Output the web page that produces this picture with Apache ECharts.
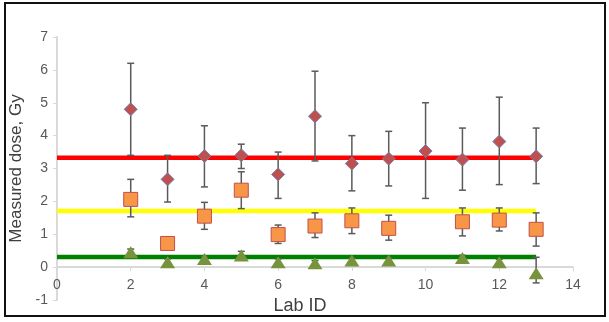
<!DOCTYPE html>
<html>
<head>
<meta charset="utf-8">
<script src="https://cdn.jsdelivr.net/npm/echarts@6/dist/echarts.min.js"></script>
<style>
  html, body { margin: 0; padding: 0; background: #fff; }
  #chart { width: 609px; height: 322px; }
</style>
</head>
<body>
<div id="chart"></div>
<script>
// lab IDs and measured doses
var redLabs = [2, 3, 4, 5, 6, 7, 8, 9, 10, 11, 12, 13]
var redVal = [4.8, 2.67, 3.38, 3.4, 2.82, 4.59, 3.15, 3.3, 3.53, 3.27, 3.82, 3.37]
var redHigh = [6.2, 3.4, 4.3, 3.74, 3.5, 5.96, 4.0, 4.13, 5.0, 4.23, 5.17, 4.23]
var redLow = [3.4, 1.98, 2.44, 3.0, 2.09, 3.23, 2.32, 2.47, 2.09, 2.34, 2.51, 2.54]

var orangeLabs = [2, 3, 4, 5, 6, 7, 8, 9, 11, 12, 13]
var orangeVal = [2.06, 0.72, 1.55, 2.34, 0.99, 1.25, 1.41, 1.18, 1.38, 1.43, 1.15]
var orangeHigh = [2.67, 0.92, 1.97, 2.9, 1.28, 1.65, 1.8, 1.58, 1.8, 1.8, 1.65]
var orangeLow = [1.53, 0.55, 1.15, 1.78, 0.72, 0.9, 1.02, 0.82, 0.95, 1.1, 0.64]

var greenLabs = [2, 3, 4, 5, 6, 7, 8, 9, 11, 12, 13]
var greenVal = [0.45, 0.15, 0.25, 0.35, 0.15, 0.12, 0.2, 0.2, 0.28, 0.15, -0.19]
var greenHigh = [0.55, 0.25, 0.33, 0.48, 0.25, 0.2, 0.28, 0.28, 0.36, 0.24, 0.3]
var greenLow = [0.35, 0.06, 0.17, 0.25, 0.07, 0.05, 0.12, 0.12, 0.2, 0.07, -0.48]

// reference levels (horizontal lines from 0 to lab 13)
var refLevels = [3.33, 1.71, 0.31]
var refColors = ['#ff0000', '#ffff00', '#008000']
var refStart = 0
var refEnd = 13

var chart = echarts.init(document.getElementById('chart'))

function pairs(xs, ys) {
  return xs.map(function (x, i) { return [x, ys[i]] })
}
function bars(xs, lo, hi) {
  return xs.map(function (x, i) { return [x, lo[i], hi[i]] })
}

function renderErr(params, api) {
  var x = api.value(0)
  var top = api.coord([x, api.value(2)])
  var bot = api.coord([x, api.value(1)])
  var st = { stroke: '#5a5a5a', lineWidth: 1.5 }
  return {
    type: 'group',
    children: [
      { type: 'line', shape: { x1: top[0], y1: top[1], x2: bot[0], y2: bot[1] }, style: st },
      { type: 'line', shape: { x1: top[0] - 3.5, y1: top[1], x2: top[0] + 3.5, y2: top[1] }, style: st },
      { type: 'line', shape: { x1: bot[0] - 3.5, y1: bot[1], x2: bot[0] + 3.5, y2: bot[1] }, style: st }
    ]
  }
}

var series = []
refLevels.forEach(function (v, i) {
  series.push({
    type: 'line',
    data: [[refStart, v], [refEnd, v]],
    symbol: 'none',
    lineStyle: { color: refColors[i], width: 4.5 },
    z: 2,
    silent: true
  })
})
series.push(
  { type: 'custom', renderItem: renderErr, data: bars(redLabs, redLow, redHigh), z: 3 },
  { type: 'custom', renderItem: renderErr, data: bars(orangeLabs, orangeLow, orangeHigh), z: 3 },
  { type: 'custom', renderItem: renderErr, data: bars(greenLabs, greenLow, greenHigh), z: 3 },
  {
    type: 'scatter',
    data: pairs(redLabs, redVal),
    symbol: 'diamond',
    symbolSize: [13, 13],
    itemStyle: { color: '#c0504d', borderColor: '#6f7fb0', borderWidth: 1, opacity: 1 },
    z: 5
  },
  {
    type: 'scatter',
    data: pairs(orangeLabs, orangeVal),
    symbol: 'rect',
    symbolSize: 14,
    itemStyle: { color: '#f79646', borderColor: '#c0504d', borderWidth: 1, opacity: 1 },
    z: 5
  },
  {
    type: 'scatter',
    data: pairs(greenLabs, greenVal),
    symbol: 'triangle',
    symbolSize: [15, 12],
    itemStyle: { color: '#77933c', opacity: 1 },
    z: 5
  }
)

// grid is 263px high for 8 units; the x axis sits at y = 0, one unit above the bottom
var gridH = 322 - 37 - 22

chart.setOption({
  animation: false,
  textStyle: { fontFamily: 'Liberation Sans, Arial, sans-serif' },
  graphic: [{
    type: 'rect',
    shape: { x: 5, y: 3, width: 600, height: 313 },
    style: { fill: 'none', stroke: '#111', lineWidth: 2 }
  }],
  grid: { left: 57, right: 36, top: 37, bottom: 22, outerBoundsMode: 'none' },
  xAxis: {
    type: 'value',
    min: 0,
    max: 14,
    interval: 2,
    offset: -gridH / 8,
    name: 'Lab ID',
    nameLocation: 'middle',
    nameGap: 28,
    nameTextStyle: { fontSize: 18, color: '#404040', padding: [0, 30, 0, 0] },
    axisLine: { onZero: false, lineStyle: { color: '#d9d9d9', width: 2 } },
    axisTick: { show: true, length: 4, lineStyle: { color: '#d9d9d9' } },
    axisLabel: { fontSize: 14, color: '#595959', margin: 11 },
    splitLine: { show: false }
  },
  yAxis: {
    type: 'value',
    min: -1,
    max: 7,
    interval: 1,
    name: 'Measured dose, Gy',
    nameLocation: 'middle',
    nameGap: 24,
    nameTextStyle: { fontSize: 17, color: '#404040' },
    axisLine: { show: true, lineStyle: { color: '#d9d9d9', width: 2 } },
    axisTick: { show: true, length: 4, lineStyle: { color: '#d9d9d9' } },
    axisLabel: { fontSize: 14, color: '#595959', margin: 9 },
    splitLine: { show: false }
  },
  series: series
})
</script>
</body>
</html>
